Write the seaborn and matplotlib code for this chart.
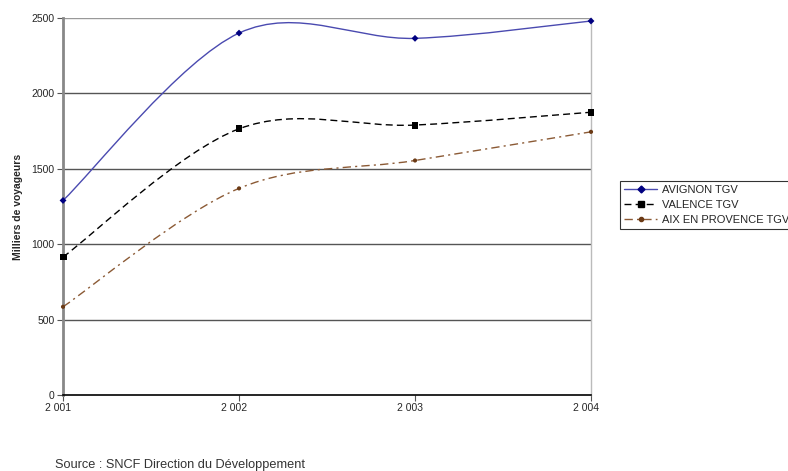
import matplotlib
matplotlib.use('Agg')
import matplotlib.pyplot as plt
import matplotlib.transforms as mtransforms
import numpy as np
import pandas as pd
import seaborn as sns
from matplotlib.path import Path
from matplotlib.patches import PathPatch
from matplotlib.lines import Line2D
from matplotlib.ticker import FuncFormatter

years = [2001, 2002, 2003, 2004]
avignon = [1290, 2400, 2365, 2480]
valence = [915, 1765, 1790, 1875]
aix = [585, 1370, 1555, 1745]
series_names = ['AVIGNON TGV', 'VALENCE TGV', 'AIX EN PROVENCE TGV']

df = pd.DataFrame({'annee': years * 3,
                   'voyageurs': avignon + valence + aix,
                   'gare': sum([[n] * 4 for n in series_names], [])})

sns.set_style('white')
plt.rcParams['font.family'] = ['Liberation Sans', 'DejaVu Sans']

styles = {
    'AVIGNON TGV': dict(color='#4a4ab0', mcolor='#000080', marker='D', ms=3.5, dash=None),
    'VALENCE TGV': dict(color='#000000', mcolor='#000000', marker='s', ms=5, dash=(5, 3)),
    'AIX EN PROVENCE TGV': dict(color='#8b5a35', mcolor='#6b3a15', marker='o', ms=3, dash=(6, 3, 1.5, 3)),
}

fig = plt.figure(figsize=(7.88, 4.71), dpi=100)
ax = fig.add_axes([0.080, 0.1614, 0.670, 0.8004])


def smooth_path(xs, ys):
    # bezier path like a spreadsheet "smoothed line"
    pts = np.column_stack([xs, ys]).astype(float)
    p = np.vstack([pts[0], pts, pts[-1]])
    verts = [pts[0]]
    codes = [Path.MOVETO]
    for i in range(1, len(p) - 2):
        c1 = p[i] + (p[i + 1] - p[i - 1]) / 6
        c2 = p[i + 1] - (p[i + 2] - p[i]) / 6
        verts += [c1, c2, p[i + 1]]
        codes += [Path.CURVE4] * 3
    return Path(verts, codes)


handles = []
for name in series_names:
    st = styles[name]
    sub = df[df.gare == name]
    patch = PathPatch(smooth_path(sub.annee.values, sub.voyageurs.values),
                      facecolor='none', edgecolor=st['color'], lw=1.0, zorder=3)
    if st['dash'] is not None:
        patch.set_linestyle((0, st['dash']))
    ax.add_patch(patch)
    handles.append(Line2D([], [], color=st['color'], lw=1.0,
                          linestyle=(0, st['dash']) if st['dash'] else '-',
                          marker=st['marker'], ms=st['ms'],
                          mfc=st['mcolor'], mec=st['mcolor']))

sns.scatterplot(data=df, x='annee', y='voyageurs', hue='gare', style='gare',
                palette={n: styles[n]['mcolor'] for n in series_names},
                markers={n: styles[n]['marker'] for n in series_names},
                size='gare', sizes={n: styles[n]['ms'] ** 2 for n in series_names},
                edgecolor='none', legend=False, ax=ax, zorder=4, clip_on=False)

ax.set_xlim(2001, 2004)
ax.set_ylim(0, 2500)
ax.set_xticks(years)
ax.set_yticks(range(0, 2501, 500))
ax.xaxis.set_major_formatter(FuncFormatter(lambda v, p: f'{int(v):,}'.replace(',', ' ')))
for y in range(500, 2501, 500):
    ax.axhline(y, color='#555555' if y < 2500 else '#999999', lw=1.0, zorder=1)

ax.spines['top'].set_visible(False)
ax.spines['right'].set_color('#bbbbbb')
ax.spines['right'].set_linewidth(1.0)
ax.spines['left'].set_color('#888888')
ax.spines['left'].set_linewidth(2.0)
ax.spines['bottom'].set_color('#000000')
ax.spines['bottom'].set_linewidth(1.2)

ax.tick_params(axis='both', which='major', labelsize=7.5, length=4, width=0.8,
               direction='out', color='#555555', pad=2, bottom=True, left=True)
# x labels sit slightly left of their ticks in the original
shift = mtransforms.ScaledTranslation(-5 / 100, 0, fig.dpi_scale_trans)
for lab in ax.get_xticklabels():
    lab.set_transform(lab.get_transform() + shift)

ax.set_xlabel('')
ax.set_ylabel('Milliers de voyageurs', fontsize=7.5, fontweight='bold', labelpad=6)

leg = fig.legend(handles, series_names, loc='upper left',
                 bbox_to_anchor=(0.787, 0.616), fontsize=8, frameon=True,
                 fancybox=False, edgecolor='#000000', handlelength=3,
                 borderpad=0.35, labelspacing=0.45, handletextpad=0.4,
                 borderaxespad=0)
leg.get_frame().set_linewidth(0.8)

fig.text(0.070, 0.0064, 'Source : SNCF Direction du Développement',
         fontsize=9.2, color='#333333', va='baseline')

plt.savefig('out.png', dpi=100)
